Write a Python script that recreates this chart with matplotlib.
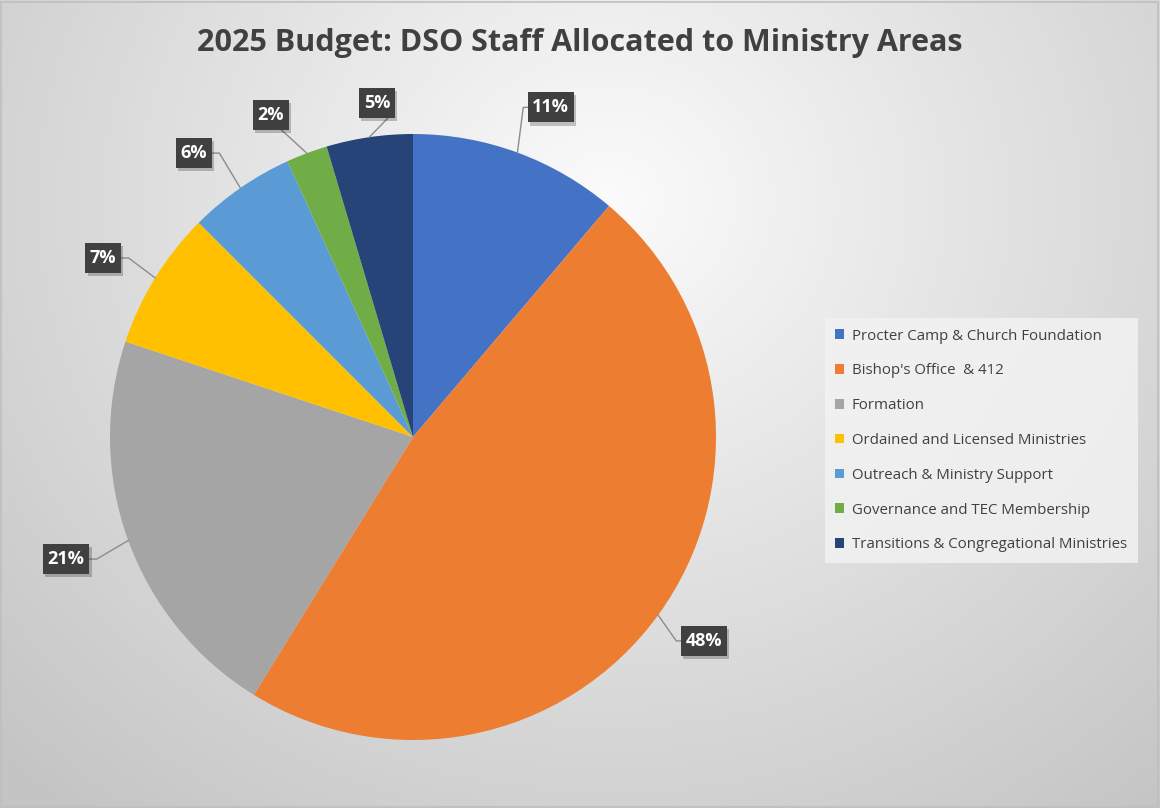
import matplotlib.pyplot as plt
import numpy as np
from matplotlib.patches import Rectangle

categories = [
    "Procter Camp & Church Foundation",
    "Bishop's Office  & 412",
    "Formation",
    "Ordained and Licensed Ministries",
    "Outreach & Ministry Support",
    "Governance and TEC Membership",
    "Transitions & Congregational Ministries",
]
shares = [11.2, 47.6, 21.3, 7.4, 5.7, 2.2, 4.6]
colors = ["#4472C4", "#ED7D31", "#A5A5A5", "#FFC000", "#5B9BD5", "#70AD47", "#264478"]

# label box centres in pie data units (radius = 1) -- layout only
label_pos = [(0.455, 1.088), (0.960, -0.673), (-1.145, -0.403), (-1.023, 0.591),
             (-0.723, 0.937), (-0.469, 1.063), (-0.119, 1.102)]
# which side of the box the leader line leaves from
label_side = ["left", "left", "right", "right", "right", "bottom", "bottom"]

W, H = 1160, 808
fig = plt.figure(figsize=(W / 100, H / 100), dpi=100)

# radial gradient background
bg = fig.add_axes([0, 0, 1, 1])
yy, xx = np.mgrid[0:H, 0:W]
d = np.sqrt(((xx - 610) / 760.0) ** 2 + ((yy - 200) / 700.0) ** 2)
shade = np.clip(0.985 - 0.19 * d, 0.77, 1)
bg.imshow(np.dstack([shade] * 3), extent=[0, W, H, 0], aspect="auto")
bg.plot([1, W - 2, W - 2, 1, 1], [2, 2, H - 1, H - 1, 2], color="#bfbfbf", lw=1.2)
bg.set_xlim(0, W)
bg.set_ylim(H, 0)
bg.axis("off")

cx, cy, r = 413, 437, 303
ax = fig.add_axes([(cx - r) / W, (H - cy - r) / H, 2 * r / W, 2 * r / H])
wedges, _ = ax.pie(shares, colors=colors, startangle=90, counterclock=False,
                   radius=1, wedgeprops=dict(linewidth=0))
ax.set_xlim(-1, 1)
ax.set_ylim(-1, 1)
ax.set_aspect("equal")
ax.axis("off")

fig.text(0.5, 1 - 43 / H, "2025 Budget: DSO Staff Allocated to Ministry Areas",
         ha="center", va="center", fontsize=22, fontweight="bold",
         color="#404040", family=["Open Sans", "DejaVu Sans"])

# data labels with leader lines
cum = np.cumsum(shares) - np.array(shares) / 2
for s, c, (lx, ly), side in zip(shares, cum, label_pos, label_side):
    ang = np.deg2rad(90 - c / sum(shares) * 360)
    ex, ey = np.cos(ang), np.sin(ang)
    hw = 0.076 if s >= 9.5 else 0.059
    hh = 0.05
    if side == "left":
        anc = (lx - hw, ly)
        pts = [anc, (anc[0] - 0.015, ly), (ex, ey)]
    elif side == "right":
        anc = (lx + hw, ly)
        pts = [anc, (anc[0] + 0.025, ly), (ex, ey)]
    else:
        anc = (lx + hw * 0.6, ly - hh)
        pts = [anc, (ex, ey)]
    xs, ys = zip(*pts)
    ax.plot(xs, ys, color="#8c8c8c", lw=1.0, clip_on=False, zorder=3)
    ax.add_patch(Rectangle((lx - hw + 0.008, ly - hh - 0.01), 2 * hw, 2 * hh,
                           facecolor="#000000", alpha=0.22, lw=0, clip_on=False, zorder=4))
    ax.add_patch(Rectangle((lx - hw, ly - hh), 2 * hw, 2 * hh,
                           facecolor="#404040", lw=0, clip_on=False, zorder=5))
    ax.text(lx, ly, f"{s:.0f}%", ha="center", va="center", fontsize=13,
            fontweight="bold", color="white", zorder=6,
            family=["Open Sans", "DejaVu Sans"])

handles = [Rectangle((0, 0), 1, 1, facecolor=c, lw=0) for c in colors]
leg = fig.legend(handles, categories, loc="upper left",
                 bbox_to_anchor=(825 / W, 1 - 318 / H),
                 frameon=True, fancybox=False,
                 handlelength=0.6, handleheight=0.6, handletextpad=0.5,
                 labelspacing=1.32, borderpad=0.7, borderaxespad=0,
                 prop={"family": ["Open Sans", "DejaVu Sans"], "size": 10.8})
leg.get_frame().set_facecolor("#f2f2f2")
leg.get_frame().set_alpha(0.85)
leg.get_frame().set_linewidth(0)
for t in leg.get_texts():
    t.set_color("#404040")

fig.savefig("out.png", dpi=100)
